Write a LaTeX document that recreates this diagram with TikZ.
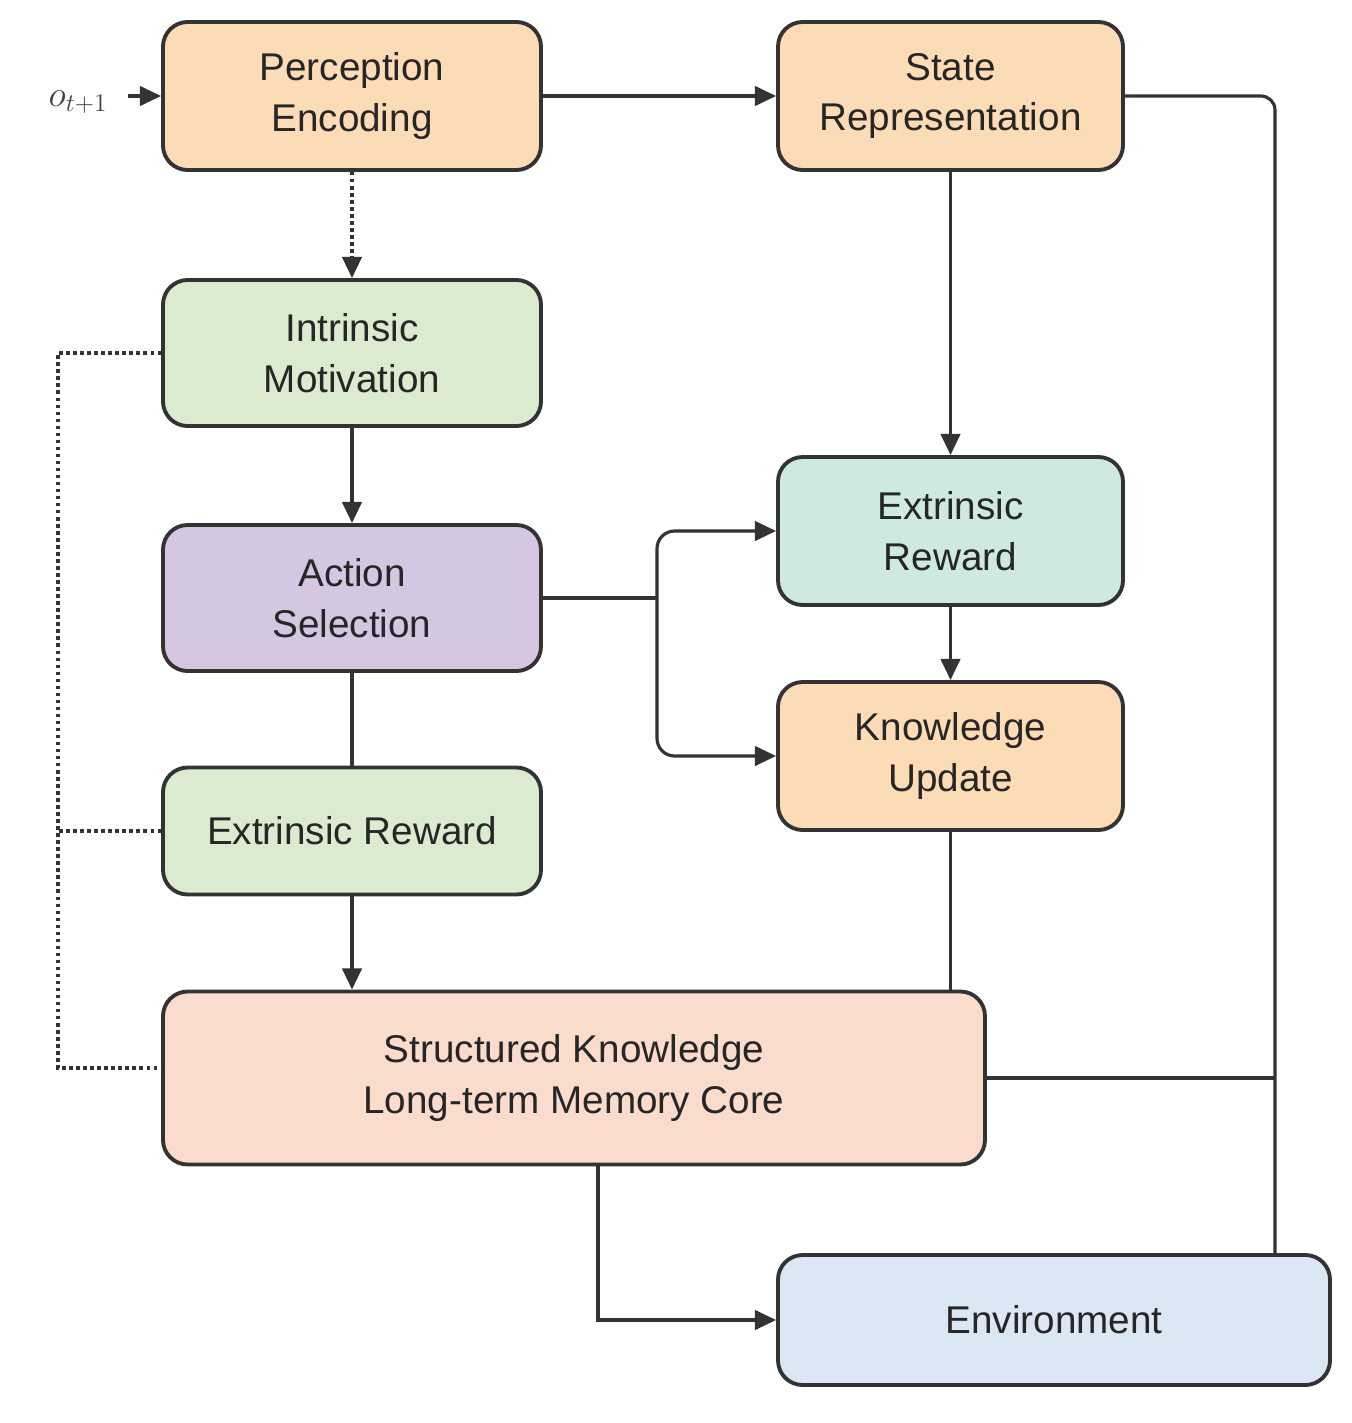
\documentclass[tikz,border=0pt]{standalone}
\usepackage{fontspec}
\setmainfont{Liberation Sans}
\usetikzlibrary{arrows.meta}
\definecolor{orf}{HTML}{FCDCB6}
\definecolor{grf}{HTML}{DAEBD0}
\definecolor{puf}{HTML}{D5C6E1}
\definecolor{tef}{HTML}{CDE9E2}
\definecolor{skf}{HTML}{FADCCC}
\definecolor{enf}{HTML}{DCE7F4}
\definecolor{ln}{HTML}{333333}
\begin{document}
\begin{tikzpicture}[x=0.02cm,y=-0.02cm,
  box/.style={draw=ln,line width=2.2pt,rounded corners=14pt,align=center,inner sep=0pt,
    font=\fontsize{22}{29}\selectfont,text=black!85},
  con/.style={draw=ln,line width=1.8pt},
  arr/.style={con,-{Triangle[length=12pt,width=11pt]}},
  dot/.style={draw=ln,line width=2pt,dotted}]
\useasboundingbox (0,0) rectangle (1352,1423);
\node[box,fill=orf,minimum width=378*0.02cm,minimum height=148*0.02cm] (pe) at (352,96) {Perception\\Encoding};
\node[box,fill=orf,minimum width=345*0.02cm,minimum height=148*0.02cm] (sr) at (950.5,96) {State\\Representation};
\node[box,fill=grf,minimum width=378*0.02cm,minimum height=146*0.02cm] (im) at (352,353) {Intrinsic\\Motivation};
\node[box,fill=puf,minimum width=378*0.02cm,minimum height=146*0.02cm] (as) at (352,598) {Action\\Selection};
\node[box,fill=grf,minimum width=378*0.02cm,minimum height=127*0.02cm] (eg) at (352,831) {Extrinsic Reward};
\node[box,fill=tef,minimum width=345*0.02cm,minimum height=148*0.02cm] (et) at (950.5,531) {Extrinsic\\Reward};
\node[box,fill=orf,minimum width=345*0.02cm,minimum height=148*0.02cm] (ku) at (950.5,756) {Knowledge\\Update};
\node[box,fill=skf,minimum width=822*0.02cm,minimum height=173*0.02cm] (sk) at (574,1078) {Structured Knowledge\\Long-term Memory Core};
\node[box,fill=enf,minimum width=552*0.02cm,minimum height=130*0.02cm] (en) at (1054,1320) {Environment};
\node[font=\fontsize{22}{26}\selectfont\itshape,text=black!75] (o) at (78,102) {$o_{t+1}$};
\coordinate (oe) at (128,96);
\draw[arr] (oe) -- (pe.west);
\draw[arr] (pe) -- (sr);
\draw[con,rounded corners=8pt] (sr.east) -- (1275,96) -- (1275,1255);
\draw[con] (sk.east) -- (1275,1078);
\draw[dot,-{Triangle[length=12pt,width=11pt]}] (pe.south) -- (im.north);
\draw[arr] (sr.south) -- (et.north);
\draw[arr] (im) -- (as);
\draw[con] (as) -- (eg);
\draw[arr] (eg) -- (sk.north -| eg.south);
\draw[arr] (et) -- (ku);
\draw[con] (ku.south) -- (950.5,992);
\coordinate (br) at (657,598);
\draw[con] (as.east) -- (br);
\draw[arr,rounded corners=10pt] (br) -- (657,531) -- (et.west);
\draw[arr,rounded corners=10pt] (br) -- (657,756) -- (ku.west);
\draw[arr] (598,1165) -- (598,1320) -- (en.west);
\draw[dot] (im.west) -- (58,353) -- (58,1068) -- (sk.west |- 0,1068);
\draw[dot] (eg.west) -- (58,831);
\end{tikzpicture}
\end{document}
